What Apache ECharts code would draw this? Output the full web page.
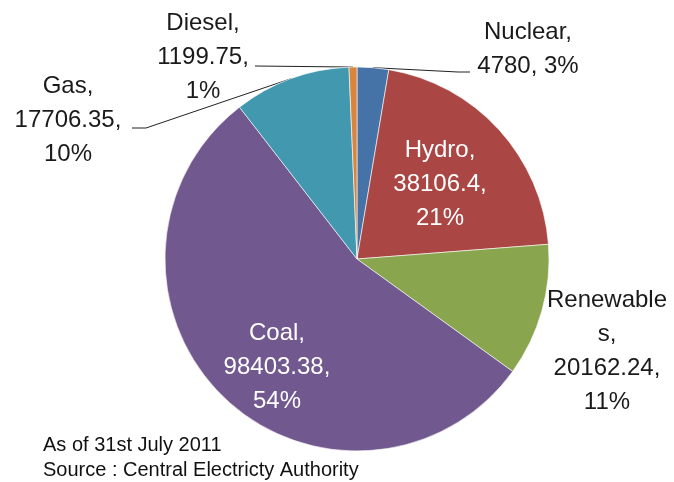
<!DOCTYPE html>
<html>
<head>
<meta charset="utf-8">
<script src="https://cdn.jsdelivr.net/npm/echarts@6/dist/echarts.min.js"></script>
<style>
html, body { margin: 0; padding: 0; background: #fff; }
#chart { width: 674px; height: 482px; }
</style>
</head>
<body>
<div id="chart"></div>
<script>
// data, clockwise from 12 o'clock
const sources = ['Nuclear', 'Hydro', 'Renewables', 'Coal', 'Gas', 'Diesel'];
const capacity = [4780, 38106.4, 20162.24, 98403.38, 17706.35, 1199.75];
const colors = ['#4572A7', '#AA4643', '#89A54E', '#71588F', '#4198AF', '#DB843D'];
const notes = ['As of 31st July 2011', 'Source : Central Electricty Authority'];

// where each label sits (centre of text block)
const labelPos = {
    Nuclear: { x: 528, y: 49, tail: [[458, 72], [470, 72]] },
    Hydro: { x: 440, y: 184 },
    Renewables: { x: 607, y: 351 },
    Coal: { x: 277, y: 367 },
    Gas: { x: 68, y: 120, tail: [[146, 128], [132, 128]] },
    Diesel: { x: 203, y: 57, tail: [[255, 66]] }
};
const insideLabels = ['Hydro', 'Coal'];

const myChart = echarts.init(document.getElementById('chart'), null, { renderer: 'canvas' });

const pieData = sources.map((name, i) => {
    const inside = insideLabels.indexOf(name) >= 0;
    return {
        name: name,
        value: capacity[i],
        itemStyle: { color: colors[i] },
        label: { position: inside ? 'inside' : 'outside', color: inside ? '#fff' : '#1a1a1a' },
        labelLine: { show: !!labelPos[name].tail }
    };
});

const option = {
    animation: false,
    backgroundColor: '#fff',
    textStyle: { fontFamily: 'Liberation Sans' },
    series: [
        {
            type: 'pie',
            center: [357, 259],
            radius: 192,
            startAngle: 90,
            clockwise: true,
            avoidLabelOverlap: false,
            percentPrecision: 0,
            data: pieData,
            itemStyle: { borderColor: '#fff', borderWidth: 0.6 },
            label: {
                fontFamily: 'Liberation Sans',
                fontSize: 24,
                lineHeight: 34,
                align: 'center',
                formatter: (p) => {
                    if (p.name === 'Nuclear') return p.name + ',\n' + p.value + ', ' + p.percent + '%';
                    if (p.name === 'Renewables') return 'Renewable\ns,\n' + p.value + ',\n' + p.percent + '%';
                    return p.name + ',\n' + p.value + ',\n' + p.percent + '%';
                }
            },
            labelLine: {
                length: 10,
                length2: 10,
                lineStyle: { color: '#222', width: 1 }
            },
            labelLayout: (params) => {
                const name = sources[params.dataIndex];
                const pos = labelPos[name];
                const out = { x: pos.x, y: pos.y, align: 'center', verticalAlign: 'middle' };
                if (pos.tail && params.labelLinePoints) {
                    out.labelLinePoints = [params.labelLinePoints[0]].concat(pos.tail);
                }
                return out;
            }
        }
    ],
    graphic: notes.map((t, i) => ({
        type: 'text',
        left: 43,
        top: 435 + i * 25,
        style: { text: t, fontFamily: 'Liberation Sans', fontSize: 20, fill: '#111' }
    }))
};

myChart.setOption(option);
</script>
</body>
</html>
